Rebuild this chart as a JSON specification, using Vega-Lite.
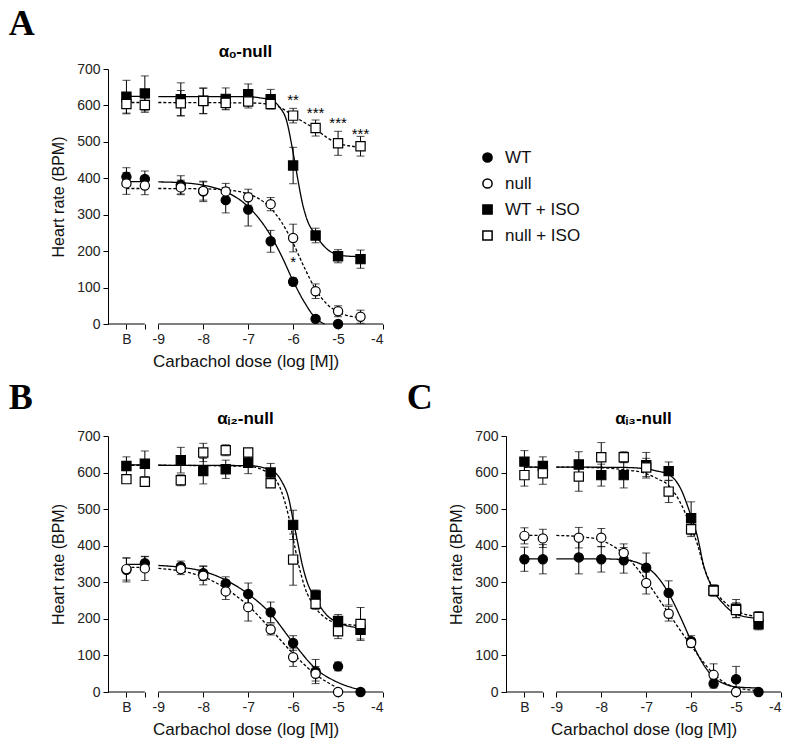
{
"$schema": "https://vega.github.io/schema/vega-lite/v6.json",
"background": "white",
"padding": {"left": 8, "top": 6, "right": 4, "bottom": 4},
"spacing": 11,
"resolve": {"legend": {"shape": "independent", "fill": "independent", "size": "independent"}},
"config": {
  "font": "Liberation Sans",
  "view": {"stroke": null},
  "axis": {"domainColor": "black", "tickColor": "black", "labelColor": "#222", "titleColor": "#111", "labelFont": "Liberation Sans", "titleFont": "Liberation Sans", "grid": false, "labelOverlap": false, "labelBound": false, "tickSize": 5, "labelFontSize": 14, "titleFontWeight": "normal"},
  "axisX": {"titleFontSize": 17, "labelPadding": 3, "titlePadding": 7},
  "axisY": {"titleFontSize": 16, "titlePadding": 10, "labelPadding": 3},
  "title": {"color": "black"}
},
"datasets": {
  "seg": [{"x": -10.12, "x2": -9.3}, {"x": -9, "x2": -4}],
  "astA": [{"x": -6, "y": 614, "t": "**"}, {"x": -5.5, "y": 580, "t": "***"}, {"x": -5, "y": 552, "t": "***"}, {"x": -4.5, "y": 522, "t": "***"}, {"x": -6, "y": 170, "t": "*"}],
  "ptsA": [
    {"g":"WT","x":-9.71,"y":404,"lo":379,"hi":429},{"g":"WT","x":-9.3,"y":398,"lo":376,"hi":420},{"g":"WT","x":-8.5,"y":382,"lo":357,"hi":407},{"g":"WT","x":-8,"y":364,"lo":336,"hi":392},{"g":"WT","x":-7.5,"y":340,"lo":305,"hi":375},{"g":"WT","x":-7,"y":314,"lo":269,"hi":359},{"g":"WT","x":-6.5,"y":227,"lo":197,"hi":257},{"g":"WT","x":-6,"y":116,"lo":106,"hi":126},{"g":"WT","x":-5.5,"y":14,"lo":9,"hi":19},{"g":"WT","x":-5,"y":0,"lo":0,"hi":0},
    {"g":"null","x":-9.71,"y":386,"lo":356,"hi":416},{"g":"null","x":-9.3,"y":380,"lo":355,"hi":405},{"g":"null","x":-8.5,"y":375,"lo":355,"hi":395},{"g":"null","x":-8,"y":365,"lo":340,"hi":390},{"g":"null","x":-7.5,"y":364,"lo":342,"hi":386},{"g":"null","x":-7,"y":348,"lo":326,"hi":370},{"g":"null","x":-6.5,"y":329,"lo":311,"hi":347},{"g":"null","x":-6,"y":236,"lo":198,"hi":274},{"g":"null","x":-5.5,"y":90,"lo":70,"hi":110},{"g":"null","x":-5,"y":35,"lo":20,"hi":50},{"g":"null","x":-4.5,"y":20,"lo":2,"hi":38},
    {"g":"WT + ISO","x":-9.71,"y":624,"lo":579,"hi":669},{"g":"WT + ISO","x":-9.3,"y":633,"lo":585,"hi":681},{"g":"WT + ISO","x":-8.5,"y":617,"lo":572,"hi":662},{"g":"WT + ISO","x":-8,"y":613,"lo":578,"hi":648},{"g":"WT + ISO","x":-7.5,"y":618,"lo":588,"hi":648},{"g":"WT + ISO","x":-7,"y":631,"lo":603,"hi":659},{"g":"WT + ISO","x":-6.5,"y":617,"lo":590,"hi":644},{"g":"WT + ISO","x":-6,"y":435,"lo":385,"hi":485},{"g":"WT + ISO","x":-5.5,"y":243,"lo":223,"hi":263},{"g":"WT + ISO","x":-5,"y":186,"lo":168,"hi":204},{"g":"WT + ISO","x":-4.5,"y":178,"lo":153,"hi":203},
    {"g":"null + ISO","x":-9.71,"y":604,"lo":577,"hi":631},{"g":"null + ISO","x":-9.3,"y":601,"lo":581,"hi":621},{"g":"null + ISO","x":-8.5,"y":606,"lo":571,"hi":641},{"g":"null + ISO","x":-8,"y":612,"lo":577,"hi":647},{"g":"null + ISO","x":-7.5,"y":607,"lo":590,"hi":624},{"g":"null + ISO","x":-7,"y":611,"lo":593,"hi":629},{"g":"null + ISO","x":-6.5,"y":604,"lo":594,"hi":614},{"g":"null + ISO","x":-6,"y":572,"lo":552,"hi":592},{"g":"null + ISO","x":-5.5,"y":538,"lo":516,"hi":560},{"g":"null + ISO","x":-5,"y":496,"lo":463,"hi":529},{"g":"null + ISO","x":-4.5,"y":488,"lo":461,"hi":515}
  ],
  "ptsB": [
    {"g":"WT","x":-9.71,"y":334,"lo":301,"hi":367},{"g":"WT","x":-9.3,"y":352,"lo":334,"hi":370},{"g":"WT","x":-8.5,"y":343,"lo":328,"hi":358},{"g":"WT","x":-8,"y":325,"lo":305,"hi":345},{"g":"WT","x":-7.5,"y":297,"lo":279,"hi":315},{"g":"WT","x":-7,"y":268,"lo":238,"hi":298},{"g":"WT","x":-6.5,"y":218,"lo":190,"hi":246},{"g":"WT","x":-6,"y":134,"lo":114,"hi":154},{"g":"WT","x":-5.5,"y":56,"lo":23,"hi":89},{"g":"WT","x":-5,"y":70,"lo":58,"hi":82},{"g":"WT","x":-4.5,"y":0,"lo":0,"hi":0},
    {"g":"null","x":-9.71,"y":336,"lo":306,"hi":366},{"g":"null","x":-9.3,"y":338,"lo":305,"hi":371},{"g":"null","x":-8.5,"y":336,"lo":321,"hi":351},{"g":"null","x":-8,"y":318,"lo":293,"hi":343},{"g":"null","x":-7.5,"y":275,"lo":253,"hi":297},{"g":"null","x":-7,"y":232,"lo":194,"hi":270},{"g":"null","x":-6.5,"y":171,"lo":156,"hi":186},{"g":"null","x":-6,"y":95,"lo":70,"hi":120},{"g":"null","x":-5.5,"y":50,"lo":30,"hi":70},{"g":"null","x":-5,"y":0,"lo":0,"hi":0},
    {"g":"WT + ISO","x":-9.71,"y":618,"lo":593,"hi":643},{"g":"WT + ISO","x":-9.3,"y":624,"lo":589,"hi":659},{"g":"WT + ISO","x":-8.5,"y":634,"lo":599,"hi":669},{"g":"WT + ISO","x":-8,"y":604,"lo":569,"hi":639},{"g":"WT + ISO","x":-7.5,"y":609,"lo":584,"hi":634},{"g":"WT + ISO","x":-7,"y":627,"lo":597,"hi":657},{"g":"WT + ISO","x":-6.5,"y":600,"lo":575,"hi":625},{"g":"WT + ISO","x":-6,"y":457,"lo":417,"hi":497},{"g":"WT + ISO","x":-5.5,"y":264,"lo":249,"hi":279},{"g":"WT + ISO","x":-5,"y":194,"lo":176,"hi":212},{"g":"WT + ISO","x":-4.5,"y":170,"lo":145,"hi":195},
    {"g":"null + ISO","x":-9.71,"y":582,"lo":582,"hi":582},{"g":"null + ISO","x":-9.3,"y":575,"lo":575,"hi":575},{"g":"null + ISO","x":-8.5,"y":579,"lo":564,"hi":594},{"g":"null + ISO","x":-8,"y":655,"lo":630,"hi":680},{"g":"null + ISO","x":-7.5,"y":661,"lo":646,"hi":676},{"g":"null + ISO","x":-7,"y":655,"lo":645,"hi":665},{"g":"null + ISO","x":-6.5,"y":571,"lo":563,"hi":579},{"g":"null + ISO","x":-6,"y":362,"lo":292,"hi":432},{"g":"null + ISO","x":-5.5,"y":241,"lo":226,"hi":256},{"g":"null + ISO","x":-5,"y":166,"lo":146,"hi":186},{"g":"null + ISO","x":-4.5,"y":186,"lo":141,"hi":231}
  ],
  "ptsC": [
    {"g":"WT","x":-9.71,"y":363,"lo":330,"hi":396},{"g":"WT","x":-9.3,"y":363,"lo":323,"hi":403},{"g":"WT","x":-8.5,"y":368,"lo":323,"hi":413},{"g":"WT","x":-8,"y":363,"lo":328,"hi":398},{"g":"WT","x":-7.5,"y":360,"lo":325,"hi":395},{"g":"WT","x":-7,"y":340,"lo":300,"hi":380},{"g":"WT","x":-6.5,"y":271,"lo":238,"hi":304},{"g":"WT","x":-6,"y":139,"lo":124,"hi":154},{"g":"WT","x":-5.5,"y":23,"lo":11,"hi":35},{"g":"WT","x":-5,"y":35,"lo":0,"hi":70},{"g":"WT","x":-4.5,"y":0,"lo":0,"hi":0},
    {"g":"null","x":-9.71,"y":427,"lo":405,"hi":449},{"g":"null","x":-9.3,"y":420,"lo":395,"hi":445},{"g":"null","x":-8.5,"y":422,"lo":394,"hi":450},{"g":"null","x":-8,"y":422,"lo":397,"hi":447},{"g":"null","x":-7.5,"y":380,"lo":355,"hi":405},{"g":"null","x":-7,"y":298,"lo":268,"hi":328},{"g":"null","x":-6.5,"y":214,"lo":194,"hi":234},{"g":"null","x":-6,"y":134,"lo":122,"hi":146},{"g":"null","x":-5.5,"y":47,"lo":17,"hi":77},{"g":"null","x":-5,"y":0,"lo":0,"hi":0},
    {"g":"WT + ISO","x":-9.71,"y":630,"lo":600,"hi":660},{"g":"WT + ISO","x":-9.3,"y":618,"lo":593,"hi":643},{"g":"WT + ISO","x":-8.5,"y":622,"lo":587,"hi":657},{"g":"WT + ISO","x":-8,"y":593,"lo":563,"hi":623},{"g":"WT + ISO","x":-7.5,"y":593,"lo":558,"hi":628},{"g":"WT + ISO","x":-7,"y":620,"lo":585,"hi":655},{"g":"WT + ISO","x":-6.5,"y":604,"lo":579,"hi":629},{"g":"WT + ISO","x":-6,"y":475,"lo":430,"hi":520},{"g":"WT + ISO","x":-5.5,"y":278,"lo":263,"hi":293},{"g":"WT + ISO","x":-5,"y":228,"lo":203,"hi":253},{"g":"WT + ISO","x":-4.5,"y":185,"lo":170,"hi":200},
    {"g":"null + ISO","x":-9.71,"y":593,"lo":563,"hi":623},{"g":"null + ISO","x":-9.3,"y":598,"lo":568,"hi":628},{"g":"null + ISO","x":-8.5,"y":589,"lo":549,"hi":629},{"g":"null + ISO","x":-8,"y":642,"lo":602,"hi":682},{"g":"null + ISO","x":-7.5,"y":642,"lo":627,"hi":657},{"g":"null + ISO","x":-7,"y":614,"lo":589,"hi":639},{"g":"null + ISO","x":-6.5,"y":548,"lo":518,"hi":578},{"g":"null + ISO","x":-6,"y":445,"lo":425,"hi":465},{"g":"null + ISO","x":-5.5,"y":277,"lo":262,"hi":292},{"g":"null + ISO","x":-5,"y":224,"lo":204,"hi":244},{"g":"null + ISO","x":-4.5,"y":205,"lo":190,"hi":220}
  ],
  "crvA": [
    {"g":"WT","s":"b","x":-9.71,"y":391},{"g":"WT","s":"b","x":-9.3,"y":391},
    {"g":"WT","s":"m","x":-9,"y":390},{"g":"WT","s":"m","x":-8.5,"y":388},{"g":"WT","s":"m","x":-8,"y":381},{"g":"WT","s":"m","x":-7.5,"y":363},{"g":"WT","s":"m","x":-7,"y":322},{"g":"WT","s":"m","x":-6.75,"y":288},{"g":"WT","s":"m","x":-6.5,"y":243},{"g":"WT","s":"m","x":-6.25,"y":185},{"g":"WT","s":"m","x":-6,"y":118},{"g":"WT","s":"m","x":-5.75,"y":60},{"g":"WT","s":"m","x":-5.5,"y":16},{"g":"WT","s":"m","x":-5.3,"y":0},
    {"g":"null","s":"b","x":-9.71,"y":372},{"g":"null","s":"b","x":-9.3,"y":372},
    {"g":"null","s":"m","x":-9,"y":372},{"g":"null","s":"m","x":-8,"y":371},{"g":"null","s":"m","x":-7.5,"y":368},{"g":"null","s":"m","x":-7,"y":357},{"g":"null","s":"m","x":-6.75,"y":343},{"g":"null","s":"m","x":-6.5,"y":318},{"g":"null","s":"m","x":-6.25,"y":278},{"g":"null","s":"m","x":-6,"y":222},{"g":"null","s":"m","x":-5.75,"y":155},{"g":"null","s":"m","x":-5.5,"y":95},{"g":"null","s":"m","x":-5.25,"y":55},{"g":"null","s":"m","x":-5,"y":33},{"g":"null","s":"m","x":-4.75,"y":22},{"g":"null","s":"m","x":-4.5,"y":18},
    {"g":"WT + ISO","s":"b","x":-9.71,"y":625},{"g":"WT + ISO","s":"b","x":-9.3,"y":625},
    {"g":"WT + ISO","s":"m","x":-9,"y":624},{"g":"WT + ISO","s":"m","x":-7,"y":624},{"g":"WT + ISO","s":"m","x":-6.75,"y":621},{"g":"WT + ISO","s":"m","x":-6.5,"y":615},{"g":"WT + ISO","s":"m","x":-6.3,"y":595},{"g":"WT + ISO","s":"m","x":-6.15,"y":560},{"g":"WT + ISO","s":"m","x":-6,"y":470},{"g":"WT + ISO","s":"m","x":-5.9,"y":400},{"g":"WT + ISO","s":"m","x":-5.8,"y":335},{"g":"WT + ISO","s":"m","x":-5.7,"y":290},{"g":"WT + ISO","s":"m","x":-5.5,"y":245},{"g":"WT + ISO","s":"m","x":-5.3,"y":212},{"g":"WT + ISO","s":"m","x":-5,"y":190},{"g":"WT + ISO","s":"m","x":-4.75,"y":186},{"g":"WT + ISO","s":"m","x":-4.5,"y":185},
    {"g":"null + ISO","s":"b","x":-9.71,"y":608},{"g":"null + ISO","s":"b","x":-9.3,"y":608},
    {"g":"null + ISO","s":"m","x":-9,"y":608},{"g":"null + ISO","s":"m","x":-7,"y":607},{"g":"null + ISO","s":"m","x":-6.5,"y":603},{"g":"null + ISO","s":"m","x":-6.25,"y":592},{"g":"null + ISO","s":"m","x":-6,"y":572},{"g":"null + ISO","s":"m","x":-5.75,"y":553},{"g":"null + ISO","s":"m","x":-5.5,"y":535},{"g":"null + ISO","s":"m","x":-5.25,"y":512},{"g":"null + ISO","s":"m","x":-5,"y":496},{"g":"null + ISO","s":"m","x":-4.75,"y":489},{"g":"null + ISO","s":"m","x":-4.5,"y":486}
  ],
  "crvB": [
    {"g":"WT","s":"b","x":-9.71,"y":349},{"g":"WT","s":"b","x":-9.3,"y":349},
    {"g":"WT","s":"m","x":-9,"y":346},{"g":"WT","s":"m","x":-8.5,"y":341},{"g":"WT","s":"m","x":-8,"y":330},{"g":"WT","s":"m","x":-7.5,"y":306},{"g":"WT","s":"m","x":-7,"y":268},{"g":"WT","s":"m","x":-6.5,"y":214},{"g":"WT","s":"m","x":-6,"y":135},{"g":"WT","s":"m","x":-5.5,"y":64},{"g":"WT","s":"m","x":-5,"y":26},{"g":"WT","s":"m","x":-4.5,"y":6},
    {"g":"null","s":"b","x":-9.71,"y":341},{"g":"null","s":"b","x":-9.3,"y":341},
    {"g":"null","s":"m","x":-9,"y":338},{"g":"null","s":"m","x":-8.5,"y":331},{"g":"null","s":"m","x":-8,"y":315},{"g":"null","s":"m","x":-7.5,"y":283},{"g":"null","s":"m","x":-7,"y":236},{"g":"null","s":"m","x":-6.5,"y":172},{"g":"null","s":"m","x":-6,"y":105},{"g":"null","s":"m","x":-5.5,"y":48},{"g":"null","s":"m","x":-5,"y":10},{"g":"null","s":"m","x":-4.85,"y":0},
    {"g":"WT + ISO","s":"b","x":-9.71,"y":621},{"g":"WT + ISO","s":"b","x":-9.3,"y":621},
    {"g":"WT + ISO","s":"m","x":-9,"y":620},{"g":"WT + ISO","s":"m","x":-7,"y":619},{"g":"WT + ISO","s":"m","x":-6.5,"y":607},{"g":"WT + ISO","s":"m","x":-6.25,"y":575},{"g":"WT + ISO","s":"m","x":-6.1,"y":530},{"g":"WT + ISO","s":"m","x":-6,"y":470},{"g":"WT + ISO","s":"m","x":-5.9,"y":410},{"g":"WT + ISO","s":"m","x":-5.8,"y":350},{"g":"WT + ISO","s":"m","x":-5.7,"y":305},{"g":"WT + ISO","s":"m","x":-5.5,"y":255},{"g":"WT + ISO","s":"m","x":-5.25,"y":210},{"g":"WT + ISO","s":"m","x":-5,"y":190},{"g":"WT + ISO","s":"m","x":-4.5,"y":175},
    {"g":"null + ISO","s":"b","x":-9.71,"y":620},{"g":"null + ISO","s":"b","x":-9.3,"y":620},
    {"g":"null + ISO","s":"m","x":-9,"y":620},{"g":"null + ISO","s":"m","x":-7,"y":617},{"g":"null + ISO","s":"m","x":-6.5,"y":595},{"g":"null + ISO","s":"m","x":-6.25,"y":545},{"g":"null + ISO","s":"m","x":-6.1,"y":480},{"g":"null + ISO","s":"m","x":-6,"y":420},{"g":"null + ISO","s":"m","x":-5.9,"y":360},{"g":"null + ISO","s":"m","x":-5.75,"y":290},{"g":"null + ISO","s":"m","x":-5.5,"y":230},{"g":"null + ISO","s":"m","x":-5.25,"y":200},{"g":"null + ISO","s":"m","x":-5,"y":188},{"g":"null + ISO","s":"m","x":-4.5,"y":182}
  ],
  "crvC": [
    {"g":"WT","s":"b","x":-9.71,"y":364},{"g":"WT","s":"b","x":-9.3,"y":364},
    {"g":"WT","s":"m","x":-9,"y":364},{"g":"WT","s":"m","x":-8,"y":364},{"g":"WT","s":"m","x":-7.5,"y":362},{"g":"WT","s":"m","x":-7.25,"y":356},{"g":"WT","s":"m","x":-7,"y":342},{"g":"WT","s":"m","x":-6.75,"y":315},{"g":"WT","s":"m","x":-6.5,"y":270},{"g":"WT","s":"m","x":-6.25,"y":208},{"g":"WT","s":"m","x":-6,"y":140},{"g":"WT","s":"m","x":-5.75,"y":80},{"g":"WT","s":"m","x":-5.5,"y":40},{"g":"WT","s":"m","x":-5.25,"y":22},{"g":"WT","s":"m","x":-5,"y":14},{"g":"WT","s":"m","x":-4.5,"y":11},
    {"g":"null","s":"b","x":-9.71,"y":428},{"g":"null","s":"b","x":-9.3,"y":428},
    {"g":"null","s":"m","x":-9,"y":428},{"g":"null","s":"m","x":-8.5,"y":425},{"g":"null","s":"m","x":-8,"y":415},{"g":"null","s":"m","x":-7.75,"y":400},{"g":"null","s":"m","x":-7.5,"y":378},{"g":"null","s":"m","x":-7.25,"y":345},{"g":"null","s":"m","x":-7,"y":305},{"g":"null","s":"m","x":-6.75,"y":260},{"g":"null","s":"m","x":-6.5,"y":215},{"g":"null","s":"m","x":-6.25,"y":170},{"g":"null","s":"m","x":-6,"y":127},{"g":"null","s":"m","x":-5.75,"y":85},{"g":"null","s":"m","x":-5.5,"y":50},{"g":"null","s":"m","x":-5.25,"y":25},{"g":"null","s":"m","x":-5,"y":12},{"g":"null","s":"m","x":-4.5,"y":4},
    {"g":"WT + ISO","s":"b","x":-9.71,"y":615},{"g":"WT + ISO","s":"b","x":-9.3,"y":615},
    {"g":"WT + ISO","s":"m","x":-9,"y":615},{"g":"WT + ISO","s":"m","x":-7.5,"y":614},{"g":"WT + ISO","s":"m","x":-7,"y":610},{"g":"WT + ISO","s":"m","x":-6.75,"y":604},{"g":"WT + ISO","s":"m","x":-6.5,"y":595},{"g":"WT + ISO","s":"m","x":-6.25,"y":560},{"g":"WT + ISO","s":"m","x":-6,"y":480},{"g":"WT + ISO","s":"m","x":-5.85,"y":420},{"g":"WT + ISO","s":"m","x":-5.73,"y":350},{"g":"WT + ISO","s":"m","x":-5.55,"y":290},{"g":"WT + ISO","s":"m","x":-5.25,"y":237},{"g":"WT + ISO","s":"m","x":-5,"y":213},{"g":"WT + ISO","s":"m","x":-4.5,"y":201},
    {"g":"null + ISO","s":"b","x":-9.71,"y":615},{"g":"null + ISO","s":"b","x":-9.3,"y":615},
    {"g":"null + ISO","s":"m","x":-9,"y":615},{"g":"null + ISO","s":"m","x":-8,"y":613},{"g":"null + ISO","s":"m","x":-7.5,"y":608},{"g":"null + ISO","s":"m","x":-7,"y":597},{"g":"null + ISO","s":"m","x":-6.75,"y":583},{"g":"null + ISO","s":"m","x":-6.5,"y":565},{"g":"null + ISO","s":"m","x":-6.25,"y":520},{"g":"null + ISO","s":"m","x":-6,"y":450},{"g":"null + ISO","s":"m","x":-5.85,"y":400},{"g":"null + ISO","s":"m","x":-5.73,"y":347},{"g":"null + ISO","s":"m","x":-5.55,"y":292},{"g":"null + ISO","s":"m","x":-5.25,"y":245},{"g":"null + ISO","s":"m","x":-5,"y":222},{"g":"null + ISO","s":"m","x":-4.5,"y":206}
  ]
},
"vconcat": [
  {
    "title": {"text": "A", "anchor": "start", "frame": "bounds", "font": "Liberation Serif", "fontSize": 36, "fontWeight": "bold", "dx": -42, "offset": 0},
    "resolve": {"legend": {"shape": "independent", "fill": "independent", "size": "independent"}},
    "vconcat": [{
      "width": 275, "height": 255,
      "title": {"text": "αₒ-null", "frame": "group", "anchor": "middle", "font": "Liberation Sans", "fontSize": 17, "fontWeight": "bold", "offset": 1},
      "layer": [
        {"data": {"name": "seg"}, "mark": {"type": "rule", "color": "black", "strokeWidth": 1},
         "encoding": {"x": {"field": "x", "type": "quantitative", "title": "Carbachol dose (log [M])", "scale": {"domain": [-10.12, -4], "nice": false, "zero": false}, "axis": {"values": [-9.71, -9.3, -9, -8, -7, -6, -5, -4], "tickCount": 30, "labelExpr": "datum.value < -9.5 ? 'B' : (datum.value < -9.1 ? '' : toString(datum.value))", "domain": false, "labelOverlap": false}},
                      "x2": {"field": "x2"}, "y": {"datum": 0, "type": "quantitative"}}},
        {"data": {"name": "crvA"}, "mark": {"type": "line", "interpolate": "monotone", "color": "black", "strokeWidth": 1.3},
         "encoding": {"x": {"field": "x", "type": "quantitative", "title": "Carbachol dose (log [M])", "scale": {"domain": [-10.12, -4], "nice": false, "zero": false}, "axis": {"values": [-9.71, -9.3, -9, -8, -7, -6, -5, -4], "tickCount": 30, "labelExpr": "datum.value < -9.5 ? 'B' : (datum.value < -9.1 ? '' : toString(datum.value))", "domain": false, "labelOverlap": false}},
                      "y": {"field": "y", "type": "quantitative", "title": "Heart rate (BPM)", "scale": {"domain": [0, 700], "nice": false}, "axis": {"values": [0,100,200,300,400,500,600,700], "tickCount": 30, "labelOverlap": false}},
                      "strokeDash": {"field": "g", "type": "nominal", "scale": {"domain": ["WT","null","WT + ISO","null + ISO"], "range": [[1,0],[3,2],[1,0],[3,2]]}, "legend": null},
                      "detail": {"field": "s"}}},
        {"data": {"name": "ptsA"}, "mark": {"type": "rule", "color": "black", "strokeWidth": 1},
         "encoding": {"x": {"field": "x", "type": "quantitative", "title": "Carbachol dose (log [M])"}, "y": {"field": "lo", "type": "quantitative", "title": "Heart rate (BPM)"}, "y2": {"field": "hi"}}},
        {"data": {"name": "ptsA"}, "mark": {"type": "tick", "orient": "horizontal", "size": 8, "thickness": 1, "color": "black"},
         "encoding": {"x": {"field": "x", "type": "quantitative", "title": "Carbachol dose (log [M])"}, "y": {"field": "lo", "type": "quantitative", "title": "Heart rate (BPM)"}}},
        {"data": {"name": "ptsA"}, "mark": {"type": "tick", "orient": "horizontal", "size": 8, "thickness": 1, "color": "black"},
         "encoding": {"x": {"field": "x", "type": "quantitative", "title": "Carbachol dose (log [M])"}, "y": {"field": "hi", "type": "quantitative", "title": "Heart rate (BPM)"}}},
        {"data": {"name": "ptsA"}, "mark": {"type": "point", "filled": true, "stroke": "black", "strokeWidth": 1.2, "opacity": 1, "fillOpacity": 1},
         "encoding": {"x": {"field": "x", "type": "quantitative", "title": "Carbachol dose (log [M])"}, "y": {"field": "y", "type": "quantitative", "title": "Heart rate (BPM)"},
                      "shape": {"field": "g", "type": "nominal", "scale": {"domain": ["WT","null","WT + ISO","null + ISO"], "range": ["circle","circle","square","square"]}, "legend": {"title": null, "orient": "none", "legendX": 371, "legendY": 80, "padding": 0, "labelFontSize": 17, "labelColor": "#111", "rowPadding": 8, "labelOffset": 9, "encode": {"symbols": {"update": {"stroke": {"value": "black"}, "strokeWidth": {"value": 1.2}}}}}},
                      "fill": {"field": "g", "type": "nominal", "scale": {"domain": ["WT","null","WT + ISO","null + ISO"], "range": ["black","white","black","white"]}, "legend": {"title": null, "orient": "none", "legendX": 371, "legendY": 80, "padding": 0, "labelFontSize": 17, "labelColor": "#111", "rowPadding": 8, "labelOffset": 9, "encode": {"symbols": {"update": {"stroke": {"value": "black"}, "strokeWidth": {"value": 1.2}}}}}},
                      "size": {"field": "g", "type": "nominal", "scale": {"domain": ["WT","null","WT + ISO","null + ISO"], "range": [85,85,50,50]}, "legend": {"title": null, "orient": "none", "legendX": 371, "legendY": 80, "padding": 0, "labelFontSize": 17, "labelColor": "#111", "rowPadding": 8, "labelOffset": 9, "encode": {"symbols": {"update": {"stroke": {"value": "black"}, "strokeWidth": {"value": 1.2}}}}}}}},
        {"data": {"name": "astA"}, "mark": {"type": "text", "fontSize": 15, "color": "black", "baseline": "middle"},
         "encoding": {"x": {"field": "x", "type": "quantitative", "title": "Carbachol dose (log [M])"}, "y": {"field": "y", "type": "quantitative", "title": "Heart rate (BPM)"}, "text": {"field": "t"}}}
      ]
    }]
  },
  {
    "spacing": 22,
    "hconcat": [
      {
        "title": {"text": "B", "anchor": "start", "frame": "bounds", "font": "Liberation Serif", "fontSize": 36, "fontWeight": "bold", "dx": -42, "offset": -7},
        "vconcat": [{
          "width": 275, "height": 256,
          "title": {"text": "αᵢ₂-null", "frame": "group", "anchor": "middle", "font": "Liberation Sans", "fontSize": 17, "fontWeight": "bold", "offset": 1},
          "layer": [
            {"data": {"name": "seg"}, "mark": {"type": "rule", "color": "black", "strokeWidth": 1},
             "encoding": {"x": {"field": "x", "type": "quantitative", "title": "Carbachol dose (log [M])", "scale": {"domain": [-10.12, -4], "nice": false, "zero": false}, "axis": {"values": [-9.71, -9.3, -9, -8, -7, -6, -5, -4], "tickCount": 30, "labelExpr": "datum.value < -9.5 ? 'B' : (datum.value < -9.1 ? '' : toString(datum.value))", "domain": false, "labelOverlap": false}},
                          "x2": {"field": "x2"}, "y": {"datum": 0, "type": "quantitative"}}},
            {"data": {"name": "crvB"}, "mark": {"type": "line", "interpolate": "monotone", "color": "black", "strokeWidth": 1.3},
             "encoding": {"x": {"field": "x", "type": "quantitative", "title": "Carbachol dose (log [M])", "scale": {"domain": [-10.12, -4], "nice": false, "zero": false}, "axis": {"values": [-9.71, -9.3, -9, -8, -7, -6, -5, -4], "tickCount": 30, "labelExpr": "datum.value < -9.5 ? 'B' : (datum.value < -9.1 ? '' : toString(datum.value))", "domain": false, "labelOverlap": false}},
                          "y": {"field": "y", "type": "quantitative", "title": "Heart rate (BPM)", "scale": {"domain": [0, 700], "nice": false}, "axis": {"values": [0,100,200,300,400,500,600,700], "tickCount": 30, "labelOverlap": false}},
                          "strokeDash": {"field": "g", "type": "nominal", "scale": {"domain": ["WT","null","WT + ISO","null + ISO"], "range": [[1,0],[3,2],[1,0],[3,2]]}, "legend": null},
                          "detail": {"field": "s"}}},
            {"data": {"name": "ptsB"}, "mark": {"type": "rule", "color": "black", "strokeWidth": 1},
             "encoding": {"x": {"field": "x", "type": "quantitative", "title": "Carbachol dose (log [M])"}, "y": {"field": "lo", "type": "quantitative", "title": "Heart rate (BPM)"}, "y2": {"field": "hi"}}},
            {"data": {"name": "ptsB"}, "mark": {"type": "tick", "orient": "horizontal", "size": 8, "thickness": 1, "color": "black"},
             "encoding": {"x": {"field": "x", "type": "quantitative", "title": "Carbachol dose (log [M])"}, "y": {"field": "lo", "type": "quantitative", "title": "Heart rate (BPM)"}}},
            {"data": {"name": "ptsB"}, "mark": {"type": "tick", "orient": "horizontal", "size": 8, "thickness": 1, "color": "black"},
             "encoding": {"x": {"field": "x", "type": "quantitative", "title": "Carbachol dose (log [M])"}, "y": {"field": "hi", "type": "quantitative", "title": "Heart rate (BPM)"}}},
            {"data": {"name": "ptsB"}, "mark": {"type": "point", "filled": true, "stroke": "black", "strokeWidth": 1.2, "opacity": 1, "fillOpacity": 1},
             "encoding": {"x": {"field": "x", "type": "quantitative", "title": "Carbachol dose (log [M])"}, "y": {"field": "y", "type": "quantitative", "title": "Heart rate (BPM)"},
                          "shape": {"field": "g", "type": "nominal", "scale": {"domain": ["WT","null","WT + ISO","null + ISO"], "range": ["circle","circle","square","square"]}, "legend": null},
                          "fill": {"field": "g", "type": "nominal", "scale": {"domain": ["WT","null","WT + ISO","null + ISO"], "range": ["black","white","black","white"]}, "legend": null},
                          "size": {"field": "g", "type": "nominal", "scale": {"domain": ["WT","null","WT + ISO","null + ISO"], "range": [85,85,50,50]}, "legend": null}}}
          ]
        }]
      },
      {
        "title": {"text": "C", "anchor": "start", "frame": "bounds", "font": "Liberation Serif", "fontSize": 36, "fontWeight": "bold", "dx": -42, "offset": -7},
        "vconcat": [{
          "width": 275, "height": 256,
          "title": {"text": "αᵢ₃-null", "frame": "group", "anchor": "middle", "font": "Liberation Sans", "fontSize": 17, "fontWeight": "bold", "offset": 1},
          "layer": [
            {"data": {"name": "seg"}, "mark": {"type": "rule", "color": "black", "strokeWidth": 1},
             "encoding": {"x": {"field": "x", "type": "quantitative", "title": "Carbachol dose (log [M])", "scale": {"domain": [-10.12, -4], "nice": false, "zero": false}, "axis": {"values": [-9.71, -9.3, -9, -8, -7, -6, -5, -4], "tickCount": 30, "labelExpr": "datum.value < -9.5 ? 'B' : (datum.value < -9.1 ? '' : toString(datum.value))", "domain": false, "labelOverlap": false}},
                          "x2": {"field": "x2"}, "y": {"datum": 0, "type": "quantitative"}}},
            {"data": {"name": "crvC"}, "mark": {"type": "line", "interpolate": "monotone", "color": "black", "strokeWidth": 1.3},
             "encoding": {"x": {"field": "x", "type": "quantitative", "title": "Carbachol dose (log [M])", "scale": {"domain": [-10.12, -4], "nice": false, "zero": false}, "axis": {"values": [-9.71, -9.3, -9, -8, -7, -6, -5, -4], "tickCount": 30, "labelExpr": "datum.value < -9.5 ? 'B' : (datum.value < -9.1 ? '' : toString(datum.value))", "domain": false, "labelOverlap": false}},
                          "y": {"field": "y", "type": "quantitative", "title": "Heart rate (BPM)", "scale": {"domain": [0, 700], "nice": false}, "axis": {"values": [0,100,200,300,400,500,600,700], "tickCount": 30, "labelOverlap": false}},
                          "strokeDash": {"field": "g", "type": "nominal", "scale": {"domain": ["WT","null","WT + ISO","null + ISO"], "range": [[1,0],[3,2],[1,0],[3,2]]}, "legend": null},
                          "detail": {"field": "s"}}},
            {"data": {"name": "ptsC"}, "mark": {"type": "rule", "color": "black", "strokeWidth": 1},
             "encoding": {"x": {"field": "x", "type": "quantitative", "title": "Carbachol dose (log [M])"}, "y": {"field": "lo", "type": "quantitative", "title": "Heart rate (BPM)"}, "y2": {"field": "hi"}}},
            {"data": {"name": "ptsC"}, "mark": {"type": "tick", "orient": "horizontal", "size": 8, "thickness": 1, "color": "black"},
             "encoding": {"x": {"field": "x", "type": "quantitative", "title": "Carbachol dose (log [M])"}, "y": {"field": "lo", "type": "quantitative", "title": "Heart rate (BPM)"}}},
            {"data": {"name": "ptsC"}, "mark": {"type": "tick", "orient": "horizontal", "size": 8, "thickness": 1, "color": "black"},
             "encoding": {"x": {"field": "x", "type": "quantitative", "title": "Carbachol dose (log [M])"}, "y": {"field": "hi", "type": "quantitative", "title": "Heart rate (BPM)"}}},
            {"data": {"name": "ptsC"}, "mark": {"type": "point", "filled": true, "stroke": "black", "strokeWidth": 1.2, "opacity": 1, "fillOpacity": 1},
             "encoding": {"x": {"field": "x", "type": "quantitative", "title": "Carbachol dose (log [M])"}, "y": {"field": "y", "type": "quantitative", "title": "Heart rate (BPM)"},
                          "shape": {"field": "g", "type": "nominal", "scale": {"domain": ["WT","null","WT + ISO","null + ISO"], "range": ["circle","circle","square","square"]}, "legend": null},
                          "fill": {"field": "g", "type": "nominal", "scale": {"domain": ["WT","null","WT + ISO","null + ISO"], "range": ["black","white","black","white"]}, "legend": null},
                          "size": {"field": "g", "type": "nominal", "scale": {"domain": ["WT","null","WT + ISO","null + ISO"], "range": [85,85,50,50]}, "legend": null}}}
          ]
        }]
      }
    ]
  }
]
}
